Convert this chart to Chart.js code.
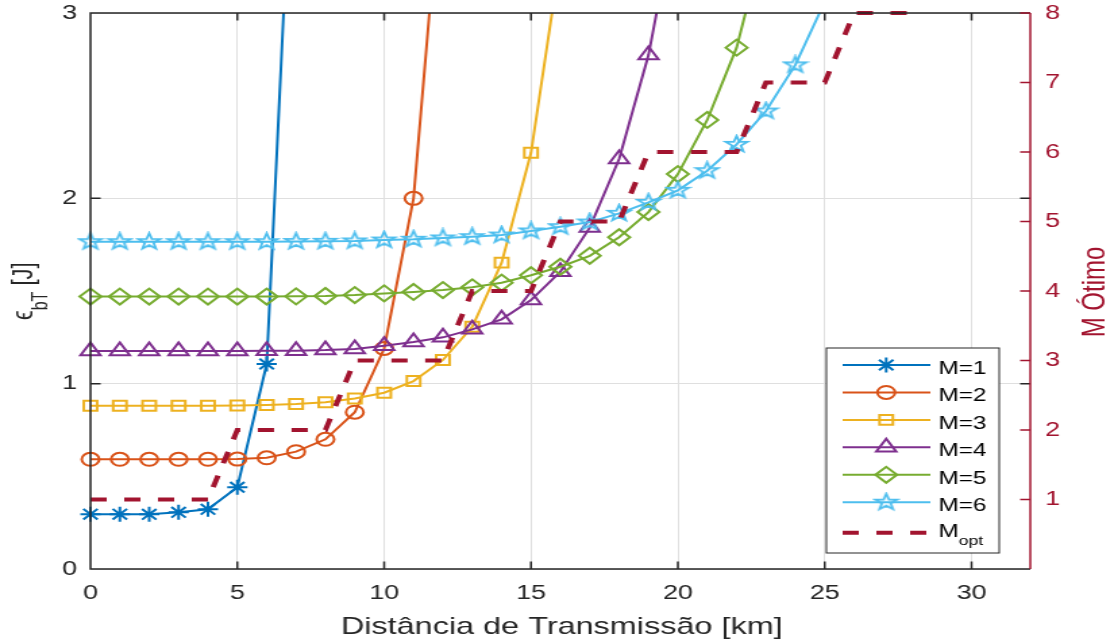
<!DOCTYPE html>
<html>
<head>
<meta charset="utf-8">
<script src="https://cdn.jsdelivr.net/npm/chart.js@4.4.0/dist/chart.umd.min.js"></script>
<style>
  html, body { margin: 0; padding: 0; background: #fff; overflow: hidden; }
  /* a figura original está esticada na horizontal */
  #wrap { width: 825px; height: 643px; transform: scaleX(1.3503); transform-origin: 0 0; }
</style>
</head>
<body>
<div id="wrap"><canvas id="chart" width="825" height="643"></canvas></div>
<script>
// distâncias em km (pontos da simulação)
const distKm = [0, 1, 2, 3, 4, 5, 6, 7, 8, 9, 10, 11, 12, 13, 14, 15, 16, 17, 18, 19, 20, 21, 22, 23, 24, 25, 26, 27, 28];

// energia por bit [J] para cada M (a última amostra de cada curva passa do topo)
const energiaM1 = [0.296, 0.296, 0.295, 0.306, 0.322, 0.441, 1.106, 4.4];
const energiaM2 = [0.592, 0.592, 0.592, 0.592, 0.592, 0.593, 0.600, 0.633, 0.700, 0.846, 1.19, 2.0, 3.85];
const energiaM3 = [0.881, 0.881, 0.881, 0.881, 0.881, 0.882, 0.885, 0.890, 0.900, 0.920, 0.951, 1.014, 1.128, 1.307, 1.653, 2.246, 3.3];
const energiaM4 = [1.176, 1.176, 1.176, 1.176, 1.176, 1.176, 1.177, 1.178, 1.181, 1.187, 1.205, 1.225, 1.25, 1.293, 1.347, 1.451, 1.604, 1.842, 2.212, 2.773, 3.6];
const energiaM5 = [1.47, 1.47, 1.47, 1.47, 1.47, 1.47, 1.47, 1.471, 1.473, 1.478, 1.487, 1.495, 1.505, 1.52, 1.545, 1.585, 1.631, 1.69, 1.79, 1.926, 2.131, 2.423, 2.813, 3.43];
const energiaM6 = [1.766, 1.766, 1.766, 1.766, 1.766, 1.766, 1.766, 1.767, 1.768, 1.770, 1.775, 1.779, 1.786, 1.793, 1.802, 1.824, 1.847, 1.872, 1.919, 1.978, 2.043, 2.149, 2.291, 2.471, 2.72, 3.06];

// M ótimo (eixo da direita)
const mOtimo = [1, 1, 1, 1, 1, 2, 2, 2, 2, 3, 3, 3, 3, 4, 4, 4, 5, 5, 5, 6, 6, 6, 6, 7, 7, 7, 8, 8, 8];

const xTicks = [0, 5, 10, 15, 20, 25, 30];
const yTicks = [0, 1, 2, 3];
const y2Ticks = [1, 2, 3, 4, 5, 6, 7, 8];

const nomes = ['M=1', 'M=2', 'M=3', 'M=4', 'M=5', 'M=6', 'M_opt'];
const cores = ['#0072BD', '#D95319', '#EDB120', '#7E2F8E', '#77AC30', '#4DBEEE', '#A2142F'];

const fonte = "'Liberation Sans', Arial, Helvetica, sans-serif";
Chart.defaults.font.family = fonte;

// pentagrama (não existe no Chart.js)
function pentagrama(cor, r) {
    const c = document.createElement('canvas');
    const s = Math.ceil(r * 2 + 4);
    c.width = s; c.height = s;
    const g = c.getContext('2d');
    g.strokeStyle = cor;
    g.lineWidth = 1.8;
    g.beginPath();
    for (let k = 0; k < 10; k++) {
        const rr = k % 2 ? r * 0.4 : r;
        const ang = -Math.PI / 2 + k * Math.PI / 5;
        const px = s / 2 + rr * Math.cos(ang), py = s / 2 + rr * Math.sin(ang);
        if (k) g.lineTo(px, py); else g.moveTo(px, py);
    }
    g.closePath();
    g.stroke();
    return c;
}

function pontos(serie) {
    return serie.map((v, i) => ({ x: distKm[i], y: v }));
}

const clipCurva = { left: 12, top: 0, right: 0, bottom: 12 };

function curva(i, serie, estilo, raio) {
    return {
        label: nomes[i],
        data: pontos(serie),
        yAxisID: 'y',
        borderColor: cores[i],
        borderWidth: 2,
        pointStyle: estilo,
        pointRadius: raio,
        pointBorderWidth: 2,
        pointBorderColor: cores[i],
        pointBackgroundColor: 'rgba(0,0,0,0)',
        tension: 0,
        clip: clipCurva,
        order: 6 - i
    };
}

const datasets = [
    curva(0, energiaM1, 'star', 7.5),
    curva(1, energiaM2, 'circle', 6.5),
    curva(2, energiaM3, 'rect', 7),
    curva(3, energiaM4, 'triangle', 8.5),
    curva(4, energiaM5, 'rectRot', 8),
    curva(5, energiaM6, pentagrama(cores[5], 8.5), 8.5),
    {
        label: nomes[6],
        data: pontos(mOtimo),
        yAxisID: 'y2',
        borderColor: cores[6],
        borderWidth: 4,
        borderDash: [12, 13],
        pointRadius: 0,
        tension: 0,
        clip: 4,
        order: 0
    }
];

// moldura, ticks internos, títulos e legenda (estilo MATLAB)
const moldura = {
    id: 'moldura',
    afterDatasetsDraw(chart) {
        const { ctx, chartArea: a, scales } = chart;
        ctx.save();
        ctx.lineWidth = 1.5;
        ctx.strokeStyle = '#262626';
        ctx.beginPath();
        ctx.moveTo(a.right, a.top); ctx.lineTo(a.left, a.top);
        ctx.lineTo(a.left, a.bottom); ctx.lineTo(a.right, a.bottom);
        xTicks.forEach(v => {
            const px = scales.x.getPixelForValue(v);
            ctx.moveTo(px, a.bottom); ctx.lineTo(px, a.bottom - 7.5);
            ctx.moveTo(px, a.top); ctx.lineTo(px, a.top + 7.5);
        });
        yTicks.forEach(v => {
            const py = scales.y.getPixelForValue(v);
            ctx.moveTo(a.left, py); ctx.lineTo(a.left + 7.5, py);
            ctx.moveTo(a.right, py); ctx.lineTo(a.right - 7.5, py);
        });
        ctx.stroke();
        ctx.strokeStyle = cores[6];
        ctx.beginPath();
        ctx.moveTo(a.right, a.top); ctx.lineTo(a.right, a.bottom);
        y2Ticks.forEach(v => {
            const py = scales.y2.getPixelForValue(v);
            ctx.moveTo(a.right, py); ctx.lineTo(a.right - 7.5, py);
        });
        ctx.stroke();
        ctx.restore();
    },
    afterDraw(chart) {
        const { ctx } = chart;
        ctx.save();

        // título do eixo x
        ctx.fillStyle = '#262626';
        ctx.font = '24px ' + fonte;
        ctx.textAlign = 'center';
        ctx.textBaseline = 'alphabetic';
        ctx.fillText('Distância de Transmissão [km]', 416, 634);

        // título do eixo y esquerdo: ϵ_bT [J]
        ctx.save();
        ctx.translate(24.4, 320);
        ctx.rotate(-Math.PI / 2);
        ctx.textAlign = 'left';
        ctx.font = '22px ' + fonte;
        ctx.fillText('ϵ', 0, 0);
        let w = ctx.measureText('ϵ').width;
        ctx.font = '16px ' + fonte;
        ctx.fillText('bT', w, 11);
        w += ctx.measureText('bT').width;
        ctx.font = '22px ' + fonte;
        ctx.fillText(' [J]', w, 0);
        ctx.restore();

        // título do eixo y direito
        ctx.save();
        ctx.translate(817.5, 292);
        ctx.rotate(-Math.PI / 2);
        ctx.textAlign = 'center';
        ctx.fillStyle = cores[6];
        ctx.font = '24px ' + fonte;
        ctx.fillText('M Ótimo', 0, 0);
        ctx.restore();

        // legenda
        const x0 = 612, y0 = 348, x1 = 740, y1 = 553;
        ctx.fillStyle = '#fff';
        ctx.fillRect(x0, y0, x1 - x0, y1 - y0);
        ctx.strokeStyle = '#262626';
        ctx.lineWidth = 1;
        ctx.strokeRect(x0, y0, x1 - x0, y1 - y0);
        chart.data.datasets.forEach((ds, i) => {
            const y = i < 6 ? 365 + i * 27.45 : 532.7;
            ctx.strokeStyle = ds.borderColor;
            ctx.lineWidth = ds.borderWidth;
            ctx.setLineDash(ds.borderDash || []);
            ctx.beginPath();
            ctx.moveTo(624, y); ctx.lineTo(689, y);
            ctx.stroke();
            ctx.setLineDash([]);
            if (ds.pointRadius > 0) {
                ctx.lineWidth = ds.pointBorderWidth;
                ctx.fillStyle = 'rgba(0,0,0,0)';
                Chart.helpers.drawPoint(ctx, {
                    pointStyle: ds.pointStyle, rotation: 0,
                    radius: ds.pointRadius, borderWidth: ds.pointBorderWidth
                }, 656.3, y);
            }
            ctx.fillStyle = '#000';
            ctx.textAlign = 'left';
            ctx.font = '18px ' + fonte;
            if (i < 6) {
                ctx.fillText(ds.label, 695, y + 9);
            } else {
                ctx.fillText('M', 695, 537);
                const wm = ctx.measureText('M').width;
                ctx.font = '13px ' + fonte;
                ctx.fillText('opt', 695 + wm, 545);
            }
        });
        ctx.restore();
    }
};

const grade = { color: '#dfdfdf', lineWidth: 1, drawTicks: false };
const fonteTicks = { family: fonte, size: 20 };

// largura fixa dos eixos e sem folga extra em cima/embaixo
function larguraFixa(w) {
    return s => { s.width = w; s.paddingTop = 0; s.paddingBottom = 0; };
}

new Chart(document.getElementById('chart'), {
    type: 'line',
    data: { datasets: datasets },
    options: {
        responsive: false,
        animation: false,
        events: [],
        layout: { padding: { top: 13, left: 0, right: 0, bottom: 0 } },
        plugins: {
            legend: { display: false },
            tooltip: { enabled: false }
        },
        scales: {
            x: {
                type: 'linear',
                min: 0,
                max: 32,
                afterBuildTicks: s => { s.ticks = xTicks.map(v => ({ value: v })); },
                afterFit: s => { s.height = 74; s.paddingLeft = 0; s.paddingRight = 0; },
                grid: grade,
                border: { display: false },
                ticks: { color: '#262626', font: fonteTicks, padding: 12, maxRotation: 0 }
            },
            y: {
                position: 'left',
                min: 0,
                max: 3,
                afterBuildTicks: s => { s.ticks = yTicks.map(v => ({ value: v })); },
                afterFit: larguraFixa(67),
                grid: grade,
                border: { display: false },
                ticks: { color: '#262626', font: fonteTicks, padding: 10 }
            },
            y2: {
                position: 'right',
                min: 0,
                max: 8,
                afterBuildTicks: s => { s.ticks = y2Ticks.map(v => ({ value: v })); },
                afterFit: larguraFixa(62),
                grid: { display: false, drawTicks: false },
                border: { display: false },
                ticks: { color: cores[6], font: fonteTicks, padding: 11 }
            }
        }
    },
    plugins: [moldura]
});
</script>
</body>
</html>
